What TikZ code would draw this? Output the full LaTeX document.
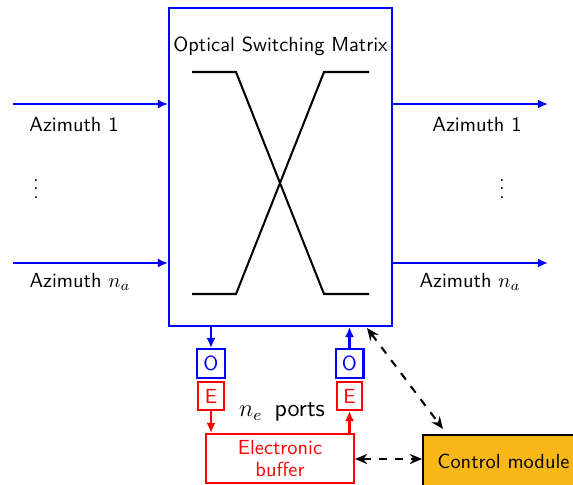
\documentclass[tikz,border=0pt]{standalone}
\usetikzlibrary{arrows.meta}
\definecolor{ctrlorange}{RGB}{250,184,24}
\begin{document}
\begin{tikzpicture}[x=0.49pt,y=-0.49pt,font=\sffamily,
  barrow/.style={blue,line width=1pt,-{Latex[length=5pt,width=4.5pt]}},
  rarrow/.style={red,line width=1pt,-{Latex[length=5pt,width=4.5pt]}},
  darrow/.style={black,line width=1pt,dashed,dash pattern=on 4pt off 4pt,{Stealth[length=6pt,width=5pt]}-{Stealth[length=6pt,width=5pt]}},
  obox/.style={draw=blue,text=blue,line width=1pt,minimum width=13.7pt,minimum height=14.2pt,inner sep=0pt},
  ebox/.style={draw=red,text=red,line width=1pt,minimum width=12.7pt,minimum height=13.7pt,inner sep=0pt},
  lbl/.style={inner sep=0pt,anchor=center}]
\useasboundingbox (0,0) rectangle (573,484);
% main box
\node[draw=blue,line width=1pt,minimum width=109.3pt,minimum height=155.8pt,inner sep=0pt] (osm) at (280.5,167) {};
\node[lbl] (title) at (280.5,46) {Optical Switching Matrix};
% crossing lines
\coordinate (a1) at (192,72); \coordinate (a2) at (236,72);
\coordinate (a3) at (324,294); \coordinate (a4) at (369,294);
\coordinate (b1) at (192,294); \coordinate (b2) at (236,294);
\coordinate (b3) at (324,72); \coordinate (b4) at (369,72);
\draw[line width=1pt] (a1) -- (a2) -- (a3) -- (a4);
\draw[line width=1pt] (b1) -- (b2) -- (b3) -- (b4);
% inputs
\coordinate (in1) at (13,104); \coordinate (in2) at (13,263);
\coordinate (out1) at (548,104); \coordinate (out2) at (548,263);
\draw[barrow] (in1) -- (in1 -| osm.west);
\draw[barrow] (in2) -- (in2 -| osm.west);
\draw[barrow] (in1 -| osm.east) -- (out1);
\draw[barrow] (in2 -| osm.east) -- (out2);
\node[lbl] (l1) at (74,125) {Azimuth 1};
\node[lbl] (l2) at (80,282) {Azimuth $n_a$};
\node[lbl] (r1) at (477,125) {Azimuth 1};
\node[lbl] (r2) at (470,282) {Azimuth $n_a$};
\node[lbl] (lv) at (36,183) {$\vdots$};
\node[lbl] (rv) at (502,183) {$\vdots$};
% O/E boxes
\node[obox] (o1) at (211,363.5) {O};
\node[ebox] (e1) at (211,396) {E};
\node[obox] (o2) at (349.5,363.5) {O};
\node[ebox] (e2) at (349.5,396) {E};
\node[lbl,font=\sffamily\large] (ports) at (282,412) {$n_e$\, ports};
% buffer
\node[draw=red,text=red,line width=1pt,minimum width=72.5pt,minimum height=24pt,inner sep=0pt,align=center] (buf) at (280,458.5) {Electronic\\[-1pt]buffer};
% control module
\node[draw=black,fill=ctrlorange,line width=1pt,minimum width=80pt,minimum height=30pt,inner sep=0pt,anchor=north west] (ctrl) at (422,434) {};
\node[lbl] (ctrltext) at (503.5,461) {Control module};
% arrows
\draw[barrow] (osm.south -| o1) -- (o1.north);
\draw[barrow] (o2.north) -- (osm.south -| o2);
\draw[rarrow] (e1.south) -- (buf.north -| e1);
\draw[rarrow] (buf.north -| e2) -- (e2.south);
\draw[darrow] (buf.east |- 0,459) -- (ctrl.west |- 0,459);
\coordinate (cr) at (367,328);
\coordinate (ct) at (443,429);
\draw[darrow] (cr) -- (ct);
\end{tikzpicture}
\end{document}
